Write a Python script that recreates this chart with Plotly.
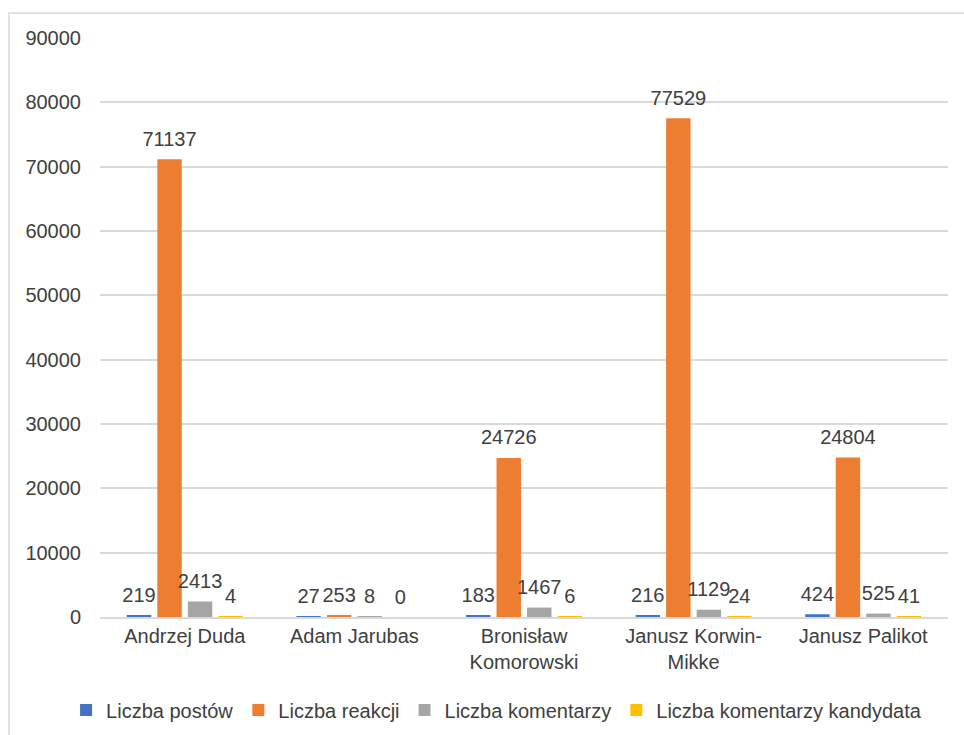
import plotly.graph_objects as go

# Candidates (category axis)
candidates = [
    "Andrzej Duda",
    "Adam Jarubas",
    "Bronisław<br>Komorowski",
    "Janusz Korwin-<br>Mikke",
    "Janusz Palikot",
]

# Series values per candidate
liczba_postow = [219, 27, 183, 216, 424]
liczba_reakcji = [71137, 253, 24726, 77529, 24804]
liczba_komentarzy = [2413, 8, 1467, 1129, 525]
liczba_komentarzy_kandydata = [4, 0, 6, 24, 41]

series_names = [
    "Liczba postów",
    "Liczba reakcji",
    "Liczba komentarzy",
    "Liczba komentarzy kandydata",
]
series_values = [liczba_postow, liczba_reakcji, liczba_komentarzy, liczba_komentarzy_kandydata]
series_colors = ["#4472C4", "#ED7D31", "#A5A5A5", "#FFC000"]

y_ticks = [0, 10000, 20000, 30000, 40000, 50000, 60000, 70000, 80000, 90000]

FONT = "Liberation Sans, Arial, sans-serif"
TEXT_COLOR = "#404040"
GRID = "#d9d9d9"
GAP = 0.28

fig = go.Figure()
for name, vals, color in zip(series_names, series_values, series_colors):
    fig.add_trace(
        go.Bar(
            name=name,
            x=candidates,
            y=vals,
            marker=dict(color=color, line=dict(width=0)),
            legendgroup=name,
        )
    )

# value labels, grouped the same way as the bars
for name, vals in zip(series_names, series_values):
    fig.add_trace(
        go.Scatter(
            x=candidates,
            y=vals,
            mode="markers+text",
            marker=dict(size=12, color="rgba(0,0,0,0)"),
            text=[str(v) for v in vals],
            textposition="top center",
            textfont=dict(family=FONT, size=20, color=TEXT_COLOR),
            cliponaxis=False,
            showlegend=False,
            legendgroup=name,
            hoverinfo="skip",
        )
    )

# chart frame
fig.add_shape(
    type="rect", xref="paper", yref="paper",
    x0=-0.1073, x1=1.1, y0=-0.3, y1=1.0432,
    line=dict(color=GRID, width=1.5), fillcolor="rgba(0,0,0,0)", layer="below",
)

fig.update_layout(
    width=964,
    height=735,
    margin=dict(l=100, r=16, t=38, b=118, autoexpand=False),
    paper_bgcolor="white",
    plot_bgcolor="white",
    font=dict(family=FONT, size=20, color=TEXT_COLOR),
    barmode="group",
    bargap=GAP,
    bargroupgap=0.2,
    scattermode="group",
    scattergap=GAP,
    showlegend=True,
    legend=dict(
        orientation="h",
        x=-0.04,
        xanchor="left",
        y=-0.1606,
        yanchor="middle",
        font=dict(family=FONT, size=20, color=TEXT_COLOR),
        itemwidth=30,
        tracegroupgap=0,
    ),
    xaxis=dict(
        showgrid=False,
        showline=True,
        linecolor=GRID,
        linewidth=1.5,
        ticks="",
        automargin=False,
        tickfont=dict(family=FONT, size=20, color=TEXT_COLOR),
    ),
    yaxis=dict(
        range=[0, 90000],
        tickvals=y_ticks,
        ticktext=[str(v) for v in y_ticks],
        showgrid=True,
        gridcolor=GRID,
        gridwidth=1.5,
        zeroline=False,
        showline=False,
        ticks="",
        automargin=False,
        ticklabelstandoff=18,
        tickfont=dict(family=FONT, size=20, color=TEXT_COLOR),
    ),
)

fig.write_html("out.html")
